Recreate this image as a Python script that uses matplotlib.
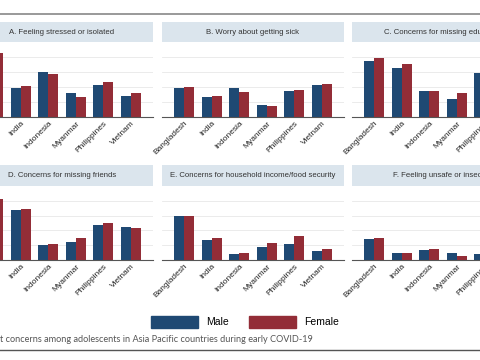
import matplotlib.pyplot as plt
from matplotlib.patches import Patch
import numpy as np

plt.rcParams['font.family'] = ['Liberation Sans', 'DejaVu Sans']

# Data goes here
countries = ['Bangladesh', 'India', 'Indonesia', 'Myanmar', 'Philippines', 'Vietnam']
titles = ['A. Feeling stressed or isolated', 'B. Worry about getting sick',
          'C. Concerns for missing education', 'D. Concerns for missing friends',
          'E. Concerns for household income/food security', 'F. Feeling unsafe or insecure']

male_a = [80, 38, 60, 32, 43, 28]
female_a = [85, 41, 57, 27, 46, 32]
male_b = [39, 26, 38, 16, 34, 42]
female_b = [40, 28, 33, 15, 36, 44]
male_c = [75, 66, 34, 24, 59, 52]
female_c = [79, 71, 35, 32, 62, 55]
male_d = [78, 67, 20, 25, 48, 45]
female_d = [82, 69, 21, 30, 50, 43]
male_e = [59, 27, 8, 17, 22, 12]
female_e = [60, 30, 9, 23, 33, 15]
male_f = [29, 9, 14, 9, 8, 9]
female_f = [30, 10, 15, 5, 6, 8]

males = [male_a, male_b, male_c, male_d, male_e, male_f]
females = [female_a, female_b, female_c, female_d, female_e, female_f]

male_color = '#1f4973'
female_color = '#932d37'
strip_color = '#dbe5ed'

W, H = 480, 360
fig = plt.figure(figsize=(4.8, 3.6), dpi=100)


def box(x, ytop, w, h):
    # pixel box -> figure fraction
    return [x / W, 1 - (ytop + h) / H, w / W, h / H]


col_x = [-29, 162, 352]
panel_w = 182
rows = [(22, 20, 45, 72), (165, 21, 189, 71)]  # strip top, strip h, plot top, plot h

x = np.arange(len(countries))
bw = 0.36

for i in range(6):
    r, c = divmod(i, 3)
    s_top, s_h, p_top, p_h = rows[r]

    sax = fig.add_axes(box(col_x[c], s_top, panel_w, s_h))
    sax.set_facecolor(strip_color)
    sax.set_xticks([])
    sax.set_yticks([])
    for sp in sax.spines.values():
        sp.set_visible(False)
    sax.text(0.5, 0.5, titles[i], ha='center', va='center', fontsize=5.6,
             color='#333333', transform=sax.transAxes)

    ax = fig.add_axes(box(col_x[c], p_top, panel_w, p_h))
    ax.bar(x - bw / 2, males[i], bw, color=male_color)
    ax.bar(x + bw / 2, females[i], bw, color=female_color)
    ax.set_xlim(-0.8, 5.8)
    ax.set_ylim(0, 96)
    ax.set_yticks([20, 40, 60, 80])
    ax.yaxis.grid(True, color='#e8e8e8', lw=0.6)
    ax.set_axisbelow(True)
    ax.tick_params(axis='y', left=False, labelleft=False)
    ax.tick_params(axis='x', length=0, pad=2)
    ax.set_xticks(x)
    ax.set_xticklabels(countries, rotation=45, ha='right', rotation_mode='anchor',
                       fontsize=6, color='#222222')
    for sp in ['top', 'right', 'left']:
        ax.spines[sp].set_visible(False)
    ax.spines['bottom'].set_color('#555555')
    ax.spines['bottom'].set_linewidth(0.8)

# frame lines top and bottom
fig.add_artist(plt.Line2D([0, 1], [1 - 14 / H, 1 - 14 / H], color='#999999', lw=1.4))
fig.add_artist(plt.Line2D([0, 1], [1 - 350 / H, 1 - 350 / H], color='#555555', lw=1.0))

handles = [Patch(color=male_color), Patch(color=female_color)]
fig.legend(handles, ['Male', 'Female'], loc='center', bbox_to_anchor=(245 / W, 1 - 322 / H),
           ncol=2, frameon=False, fontsize=7.5, handlelength=4.5, handleheight=1.5,
           handletextpad=0.8, columnspacing=1.9)

fig.text(0, 1 - 340 / H, 't concerns among adolescents in Asia Pacific countries during early COVID-19',
         ha='left', va='center', fontsize=6.6, color='#555555', family='Lato')

fig.savefig('out.png', dpi=100)
plt.close(fig)
